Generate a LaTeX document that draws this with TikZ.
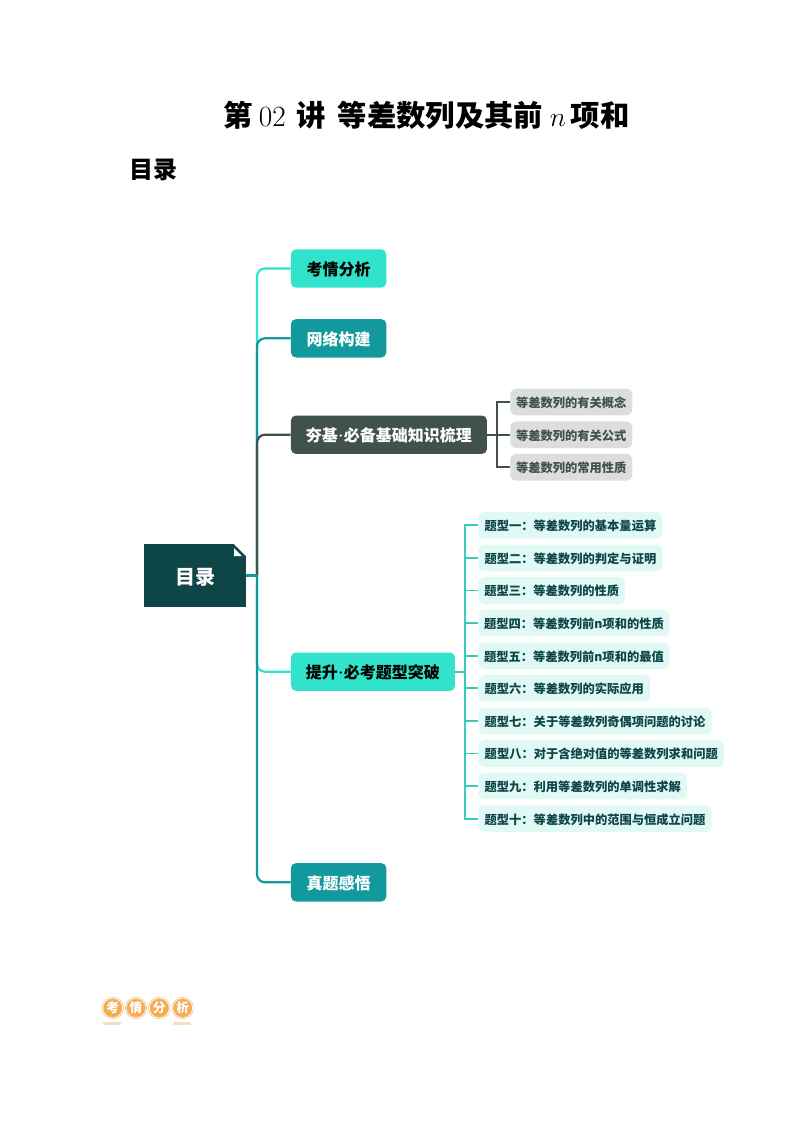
\documentclass[tikz,border=0pt]{standalone}
\usepackage{fontspec}
\newfontfamily\cjk{Noto Sans CJK SC}
\definecolor{rootcolor}{rgb}{0.055, 0.271, 0.275}
\definecolor{brightcolor}{rgb}{0.188, 0.890, 0.792}
\definecolor{tealcolor}{rgb}{0.067, 0.600, 0.620}
\definecolor{darkcolor}{rgb}{0.251, 0.318, 0.306}
\definecolor{conceptcolor}{rgb}{0.863, 0.871, 0.871}
\definecolor{topiccolor}{rgb}{0.878, 0.976, 0.961}
\definecolor{topicline}{rgb}{0.220, 0.800, 0.720}
\definecolor{badgecolor}{rgb}{0.957, 0.675, 0.337}
\definecolor{stripcolor}{rgb}{0.980, 0.867, 0.753}
\newlength{\du}
\setlength{\du}{0.75pt}
\newcommand{\middot}{\hspace{-3pt}{\normalfont\bfseries\textperiodcentered}\hspace{-3pt}}
\tikzset{
  mainbox/.style={rectangle, rounded corners=5\du, minimum height=38.4\du, inner sep=0pt, anchor=west, text height=10.5pt, text depth=0pt, font=\cjk\bfseries\fontsize{12pt}{14pt}\selectfont},
  brightbox/.style={mainbox, fill=brightcolor, text=black},
  tealbox/.style={mainbox, fill=tealcolor, text=white},
  darkbox/.style={mainbox, fill=darkcolor, text=white},
  conceptbox/.style={rectangle, rounded corners=6\du, fill=conceptcolor, text=darkcolor, minimum height=26.7\du, inner sep=0pt, anchor=west, text height=8.1pt, text depth=0pt, font=\cjk\bfseries\fontsize{9.2pt}{11pt}\selectfont},
  topicbox/.style={rectangle, rounded corners=6\du, fill=topiccolor, text=rootcolor, minimum height=26.7\du, inner sep=0pt, anchor=west, text height=8.1pt, text depth=0pt, font=\cjk\bfseries\fontsize{9.2pt}{11pt}\selectfont},
  trunkline/.style={line width=2.2\du, rounded corners=8\du},
  conceptline/.style={line width=1.7\du, draw=darkcolor},
  topicline/.style={line width=1.8\du, draw=topicline},
  badge/.style={circle, fill=badgecolor, draw=badgecolor, double=white, line width=0.5\du, double distance=0.8\du, minimum size=20\du, inner sep=0pt, text=white, font=\cjk\bfseries\fontsize{9.5pt}{10pt}\selectfont}
}
\begin{document}
\begin{tikzpicture}
\pgftransformxscale{1.000000}
\pgftransformyscale{-1.000000}
\useasboundingbox (0\du,0\du) rectangle (794\du,1123\du);
% headings
\node (title) at (426.5\du,115\du){\cjk\bfseries\fontsize{22pt}{26pt}\selectfont 第\hspace{4.5pt}{\normalfont 02}\hspace{8pt}讲\hspace{9pt}等差数列及其前\hspace{5pt}$n$\hspace{3.5pt}项和};
\node[anchor=west, inner sep=0pt] (heading) at (129\du,170\du){\cjk\bfseries\fontsize{18pt}{22pt}\selectfont 目录};
% root
\node[rectangle, fill=rootcolor, text=white, minimum width=102\du, minimum height=63\du, inner sep=0pt, text height=13.2pt, text depth=0pt, font=\cjk\bfseries\fontsize{15pt}{18pt}\selectfont] (root) at (195\du,575.5\du){目录};
\fill[white] (233\du,543\du)--(247\du,543\du)--(247\du,557\du)--cycle;
\fill[white] (234\du,548\du)--(234\du,556\du)--(242\du,556\du)--cycle;
% main boxes
\node[brightbox, minimum width=95.3\du] (analysis) at (290.7\du,268.5\du){考情分析};
\node[tealbox, minimum width=95.3\du] (network) at (290.7\du,338.3\du){网络构建};
\node[darkbox, minimum width=196\du] (basics) at (290.7\du,434.7\du){夯基\middot 必备基础知识梳理};
\node[brightbox, minimum width=164\du] (types) at (290.7\du,671.7\du){提升\middot 必考题型突破};
\node[tealbox, minimum width=95.3\du] (exam) at (290.7\du,882.3\du){真题感悟};
\coordinate (trunk) at (257\du,575.5\du);
% trunk
\draw[trunkline, brightcolor] (trunk)|-(analysis.west);
\draw[trunkline, tealcolor] (trunk)|-(network.west);
\draw[trunkline, darkcolor] (trunk)|-(basics.west);
\draw[trunkline, brightcolor] (trunk)|-(types.west);
\draw[trunkline, tealcolor] (trunk)|-(exam.west);
\draw[line width=2.2\du, tealcolor] (root.east)--(trunk);
% concepts
\node[conceptbox, minimum width=122\du] (concept1) at (510\du,402\du){等差数列的有关概念};
\node[conceptbox, minimum width=122\du] (concept2) at (510\du,434.7\du){等差数列的有关公式};
\node[conceptbox, minimum width=122\du] (concept3) at (510\du,467.3\du){等差数列的常用性质};
\coordinate (conceptfork) at (497.3\du,434.7\du);
\draw[conceptline] (basics.east)--(concept2.west);
\draw[conceptline] (conceptfork)|-(concept1.west);
\draw[conceptline] (conceptfork)|-(concept3.west);
% topics
\node[topicbox, minimum width=183.7\du] (topic1) at (478.3\du,525.3\du){题型一：等差数列的基本量运算};
\node[topicbox, minimum width=183.7\du] (topic2) at (478.3\du,558\du){题型二：等差数列的判定与证明};
\node[topicbox, minimum width=146.4\du] (topic3) at (478.3\du,590.5\du){题型三：等差数列的性质};
\node[topicbox, minimum width=190.7\du] (topic4) at (478.3\du,623\du){题型四：等差数列前n项和的性质};
\node[topicbox, minimum width=190.7\du] (topic5) at (478.3\du,655.7\du){题型五：等差数列前n项和的最值};
\node[topicbox, minimum width=171.4\du] (topic6) at (478.3\du,688.3\du){题型六：等差数列的实际应用};
\node[topicbox, minimum width=233\du] (topic7) at (478.3\du,721\du){题型七：关于等差数列奇偶项问题的讨论};
\node[topicbox, minimum width=245.4\du] (topic8) at (478.3\du,753.5\du){题型八：对于含绝对值的等差数列求和问题};
\node[topicbox, minimum width=208.4\du] (topic9) at (478.3\du,786\du){题型九：利用等差数列的单调性求解};
\node[topicbox, minimum width=233\du] (topic10) at (478.3\du,818.6\du){题型十：等差数列中的范围与恒成立问题};
\coordinate (topicfork) at (465.3\du,671.7\du);
\draw[topicline] (types.east)--(topicfork);
\draw[topicline] (topicfork)|-(topic1.west);
\draw[topicline] (topicfork)|-(topic2.west);
\draw[topicline] (topicfork)|-(topic3.west);
\draw[topicline] (topicfork)|-(topic4.west);
\draw[topicline] (topicfork)|-(topic5.west);
\draw[topicline] (topicfork)|-(topic6.west);
\draw[topicline] (topicfork)|-(topic7.west);
\draw[topicline] (topicfork)|-(topic8.west);
\draw[topicline] (topicfork)|-(topic9.west);
\draw[topicline] (topicfork)|-(topic10.west);
% badge
\fill[stripcolor] (103\du,1022\du)--(103\du,1024.5\du)--(121\du,1024.5\du)--(121\du,1022\du)--cycle;
\fill[stripcolor] (173\du,1022\du)--(173\du,1024.5\du)--(191\du,1024.5\du)--(191\du,1022\du)--cycle;
\node[badge] (badge1) at (112.7\du,1008\du){考};
\node[badge] (badge2) at (136\du,1008\du){情};
\node[badge] (badge3) at (159.3\du,1008\du){分};
\node[badge] (badge4) at (182.7\du,1008\du){析};
\end{tikzpicture}
\end{document}
